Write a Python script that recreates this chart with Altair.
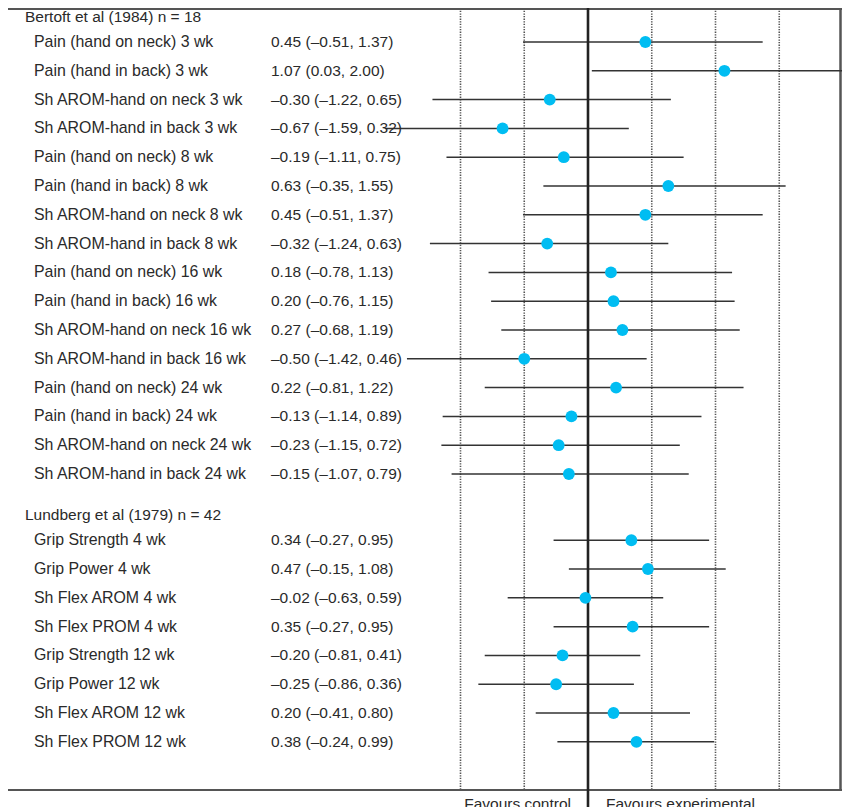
import altair as alt
import pandas as pd

# ---- data ----
study_b = "Bertoft et al (1984) n = 18"
labels_b = ["Pain (hand on neck) 3 wk", "Pain (hand in back) 3 wk",
            "Sh AROM-hand on neck 3 wk", "Sh AROM-hand in back 3 wk",
            "Pain (hand on neck) 8 wk", "Pain (hand in back) 8 wk",
            "Sh AROM-hand on neck 8 wk", "Sh AROM-hand in back 8 wk",
            "Pain (hand on neck) 16 wk", "Pain (hand in back) 16 wk",
            "Sh AROM-hand on neck 16 wk", "Sh AROM-hand in back 16 wk",
            "Pain (hand on neck) 24 wk", "Pain (hand in back) 24 wk",
            "Sh AROM-hand on neck 24 wk", "Sh AROM-hand in back 24 wk"]
est_b = [0.45, 1.07, -0.30, -0.67, -0.19, 0.63, 0.45, -0.32,
         0.18, 0.20, 0.27, -0.50, 0.22, -0.13, -0.23, -0.15]
lo_b = [-0.51, 0.03, -1.22, -1.59, -1.11, -0.35, -0.51, -1.24,
        -0.78, -0.76, -0.68, -1.42, -0.81, -1.14, -1.15, -1.07]
hi_b = [1.37, 2.00, 0.65, 0.32, 0.75, 1.55, 1.37, 0.63,
        1.13, 1.15, 1.19, 0.46, 1.22, 0.89, 0.72, 0.79]

study_l = "Lundberg et al (1979) n = 42"
labels_l = ["Grip Strength 4 wk", "Grip Power 4 wk", "Sh Flex AROM 4 wk",
            "Sh Flex PROM 4 wk", "Grip Strength 12 wk", "Grip Power 12 wk",
            "Sh Flex AROM 12 wk", "Sh Flex PROM 12 wk"]
est_l = [0.34, 0.47, -0.02, 0.35, -0.20, -0.25, 0.20, 0.38]
lo_l = [-0.27, -0.15, -0.63, -0.27, -0.81, -0.86, -0.41, -0.24]
hi_l = [0.95, 1.08, 0.59, 0.95, 0.41, 0.36, 0.80, 0.99]

ref_ticks = [-1.0, -0.5, 0.5, 1.0, 1.5]
null_value = [0.0]
favour_labels = ["Favours control", "Favours experimental"]

# ---- build tables ----
def fmt(v):
    s = f"{abs(v):.2f}"
    return ("\u2013" + s) if v < 0 else s

rows = []
headers = []
pos = 0
for gi, (study, labs, es, los, his) in enumerate(
        [(study_b, labels_b, est_b, lo_b, hi_b),
         (study_l, labels_l, est_l, lo_l, hi_l)]):
    gap = 0.3 * gi
    headers.append({"text": study, "pos": pos + gap + 0.12})
    pos += 1
    for lab, e, l, h in zip(labs, es, los, his):
        rows.append({"label": lab, "est": e, "lo": l, "hi": h,
                     "stat": f"{fmt(e)} ({fmt(l)}, {fmt(h)})",
                     "pos": pos + gap})
        pos += 1

df = pd.DataFrame(rows)
hdf = pd.DataFrame(headers)
tdf = pd.DataFrame({"t": ref_ticks})
zdf = pd.DataFrame({"z": null_value})
fdf = pd.DataFrame({"f": favour_labels})

# page coordinates -> chart coordinates (page has an 8px margin)
OFF = 8
W, H = 834, 799
def px(v):
    return v - OFF

xs = alt.Scale(domain=[-588 / 127.5, (850 - 588) / 127.5], range=[-OFF, 850 - OFF],
               nice=False, zero=False)
ys = alt.Scale(domain=[-0.4583, 27.5625], range=[-OFF, 807 - OFF], nice=False, zero=False)

FONT = "Liberation Sans"
FS = 15.5
TXT = "#2a2a2a"
LINE = "#333333"
FRAME = "#555555"

base = alt.Chart(df)

dotted = alt.Chart(tdf).mark_rule(color="#555555", strokeWidth=1.6, strokeDash=[1.3, 1.3]).encode(
    x=alt.X("t:Q", scale=xs, axis=None),
    y=alt.value(px(3)), y2=alt.value(px(790)))

zero = alt.Chart(zdf).mark_rule(color="#222222", strokeWidth=2.6).encode(
    x=alt.X("z:Q", scale=xs, axis=None), y=alt.value(0), y2=alt.value(px(807)))

top_line = alt.Chart(zdf).mark_rule(color=FRAME, strokeWidth=2).encode(
    x=alt.value(0), x2=alt.value(px(842)), y=alt.value(1))
bottom_line = alt.Chart(zdf).mark_rule(color=FRAME, strokeWidth=2).encode(
    x=alt.value(0), x2=alt.value(px(842)), y=alt.value(px(790)))
right_line = alt.Chart(zdf).mark_rule(color=FRAME, strokeWidth=2.5).encode(
    x=alt.value(px(840.5)), y=alt.value(0), y2=alt.value(px(790)))

ci = base.mark_rule(color=LINE, strokeWidth=1.5).encode(
    x=alt.X("lo:Q", scale=xs, axis=None), x2="hi:Q",
    y=alt.Y("pos:Q", scale=ys, axis=None))

pts = base.mark_circle(color="#00BDF2", opacity=1, size=140).encode(
    x=alt.X("est:Q", scale=xs, axis=None),
    y=alt.Y("pos:Q", scale=ys, axis=None))

lab = base.mark_text(align="left", baseline="middle", font=FONT, fontSize=15.9, color=TXT).encode(
    x=alt.value(px(34)), y=alt.Y("pos:Q", scale=ys, axis=None), text="label:N")

stat = base.mark_text(align="left", baseline="middle", font=FONT, fontSize=FS, color=TXT).encode(
    x=alt.value(px(271)), y=alt.Y("pos:Q", scale=ys, axis=None), text="stat:N")

head = alt.Chart(hdf).mark_text(align="left", baseline="middle", font=FONT, fontSize=FS, color=TXT).encode(
    x=alt.value(px(25)), y=alt.Y("pos:Q", scale=ys, axis=None), text="text:N")

fav_c = alt.Chart(fdf).transform_filter(alt.datum.f == favour_labels[0]).mark_text(
    align="right", baseline="alphabetic", font=FONT, fontSize=FS, color=TXT).encode(
    x=alt.value(px(571)), y=alt.value(px(809)), text="f:N")
fav_e = alt.Chart(fdf).transform_filter(alt.datum.f == favour_labels[1]).mark_text(
    align="left", baseline="alphabetic", font=FONT, fontSize=FS, color=TXT).encode(
    x=alt.value(px(606)), y=alt.value(px(809)), text="f:N")

chart = alt.layer(
    dotted, top_line, bottom_line, right_line, ci, zero, pts, lab, stat, head, fav_c, fav_e
).properties(
    width=W, height=H,
    autosize=alt.AutoSizeParams(type="none"),
    padding=0,
).configure_view(stroke=None)

chart.save("out.html", embed_options={"renderer": "svg", "actions": False})
